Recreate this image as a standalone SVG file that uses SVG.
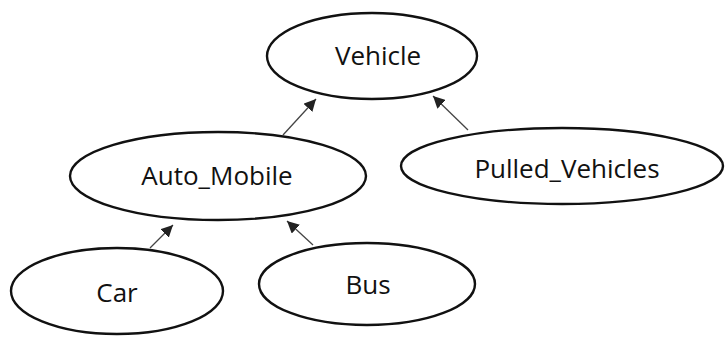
<svg xmlns="http://www.w3.org/2000/svg" width="726" height="338" viewBox="0 0 726 338">
<style>
.node ellipse{fill:#ffffff;stroke:#111111;stroke-width:2.4}
.node text{font-family:"Open Sans","Liberation Sans",sans-serif;font-size:26px;fill:#111111;text-anchor:middle}
.edge{stroke:#444444;stroke-width:1.3;fill:none;marker-end:url(#arr)}
</style>
<defs>
<marker id="arr" viewBox="0 0 10 10" refX="10" refY="5" markerWidth="12" markerHeight="12" markerUnits="userSpaceOnUse" orient="auto">
<path d="M0,0 L10,5 L0,10 z" fill="#222222"/>
</marker>
</defs>
<rect width="726" height="338" fill="#ffffff"/>
<g id="connectors">
<line class="edge" x1="283" y1="135" x2="316" y2="99"/>
<line class="edge" x1="468" y1="130" x2="433" y2="96"/>
<line class="edge" x1="150" y1="248" x2="173" y2="225"/>
<line class="edge" x1="313" y1="245" x2="287" y2="221"/>
</g>
<g id="vehicle" class="node">
<ellipse cx="372" cy="56" rx="105" ry="43"/>
<text x="378" y="65">Vehicle</text>
</g>
<g id="auto_mobile" class="node">
<ellipse cx="218" cy="176" rx="148" ry="44"/>
<text x="217" y="185">Auto_Mobile</text>
</g>
<g id="pulled_vehicles" class="node">
<ellipse cx="562" cy="166" rx="161" ry="38"/>
<text x="567" y="178">Pulled_Vehicles</text>
</g>
<g id="car" class="node">
<ellipse cx="117" cy="291" rx="106" ry="43"/>
<text x="117" y="302">Car</text>
</g>
<g id="bus" class="node">
<ellipse cx="367" cy="284" rx="108" ry="41"/>
<text x="368" y="294">Bus</text>
</g>
</svg>
